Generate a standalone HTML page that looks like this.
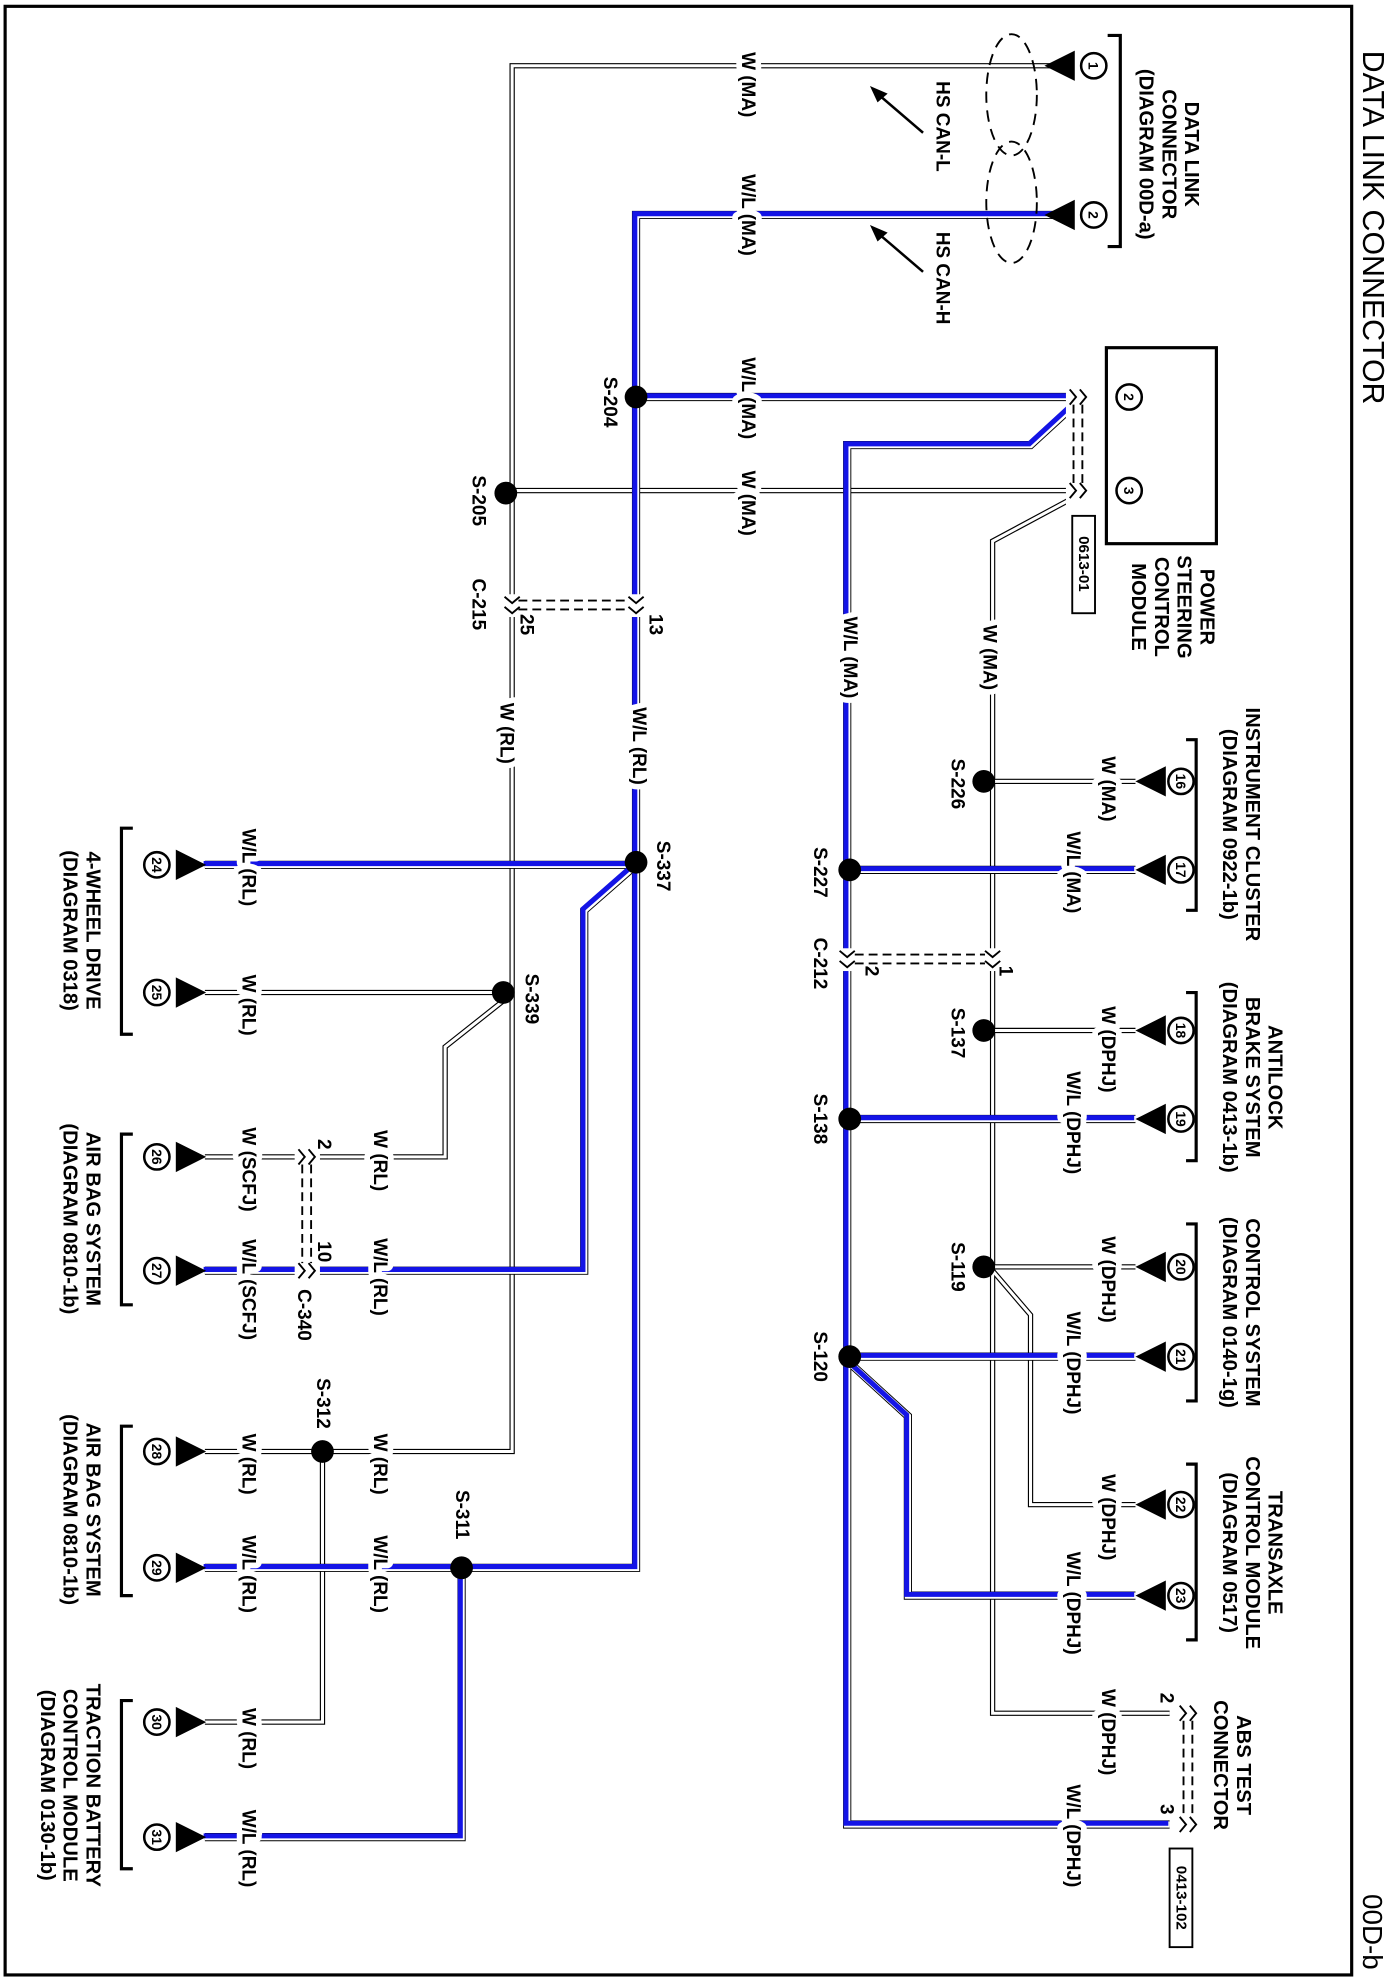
<!DOCTYPE html>
<html><head><meta charset="utf-8"><style>
html,body{margin:0;padding:0;background:#fff}
svg{display:block}
.t{font-family:"Liberation Sans Narrow","Liberation Sans",sans-serif;font-weight:bold;font-size:15px;fill:#000}
.g{font-family:"Liberation Sans Narrow","Liberation Sans",sans-serif;font-weight:bold;font-size:16px;fill:#000}
.wo{stroke:#000;stroke-width:4.2;fill:none;stroke-linejoin:miter}
.wi{stroke:#fff;stroke-width:2.4;fill:none;stroke-linejoin:miter}
.bo{stroke:#000;stroke-width:6.5;fill:none}
.bw{stroke:#fff;stroke-width:5;fill:none}
.bi{stroke:#1414e6;stroke-width:4;fill:none}
</style></head><body>
<svg width="1396" height="1980" viewBox="0 0 1104 1566" xmlns="http://www.w3.org/2000/svg">
<rect x="4" y="5" width="1065" height="1557" fill="none" stroke="#000" stroke-width="2.5"/>
<text class="g" style="font-size:24px;font-weight:normal" transform="translate(1078,40) rotate(90)">DATA LINK CONNECTOR</text>
<text class="g" style="font-size:22px;font-weight:normal" transform="translate(1078,1498) rotate(90)">00D-b</text>

<!-- white wires -->
<g class="wo">
<path d="M840,52 H405 V1148 H162"/>
<path d="M405,388 H852"/>
<path d="M405,785 H162"/>
<path d="M400,790 L352,828 V915 H162"/>
<path d="M255,1148 V1362 H162"/>
<path d="M852,392 L785,428 V1355 H925"/>
<path d="M785,618 H898"/>
<path d="M785,815 H898"/>
<path d="M785,1002 H898"/>
<path d="M785,1005 L815,1040 V1190 H898"/>
</g>
<g class="wi">
<path d="M840,52 H405 V1148 H162"/>
<path d="M405,388 H852"/>
<path d="M405,785 H162"/>
<path d="M400,790 L352,828 V915 H162"/>
<path d="M255,1148 V1362 H162"/>
<path d="M852,392 L785,428 V1355 H925"/>
<path d="M785,618 H898"/>
<path d="M785,815 H898"/>
<path d="M785,1002 H898"/>
<path d="M785,1005 L815,1040 V1190 H898"/>
</g>

<!-- blue wires -->
<g class="bo">
<path d="M840,170 H503 V1240 H162"/>
<path d="M503,314 H852"/>
<path d="M503,684 H162"/>
<path d="M503,684 L462,720 V1005 H162"/>
<path d="M365,1240 V1453 H162"/>
<path d="M852,318 L815,352 H670 V1443 H925"/>
<path d="M670,688 H898"/><path d="M670,885 H898"/><path d="M670,1073 H898"/>
<path d="M672,1078 L718,1120 V1262 H898"/>
</g>
<g class="bw">
<path d="M840,170 H503 V1240 H162"/>
<path d="M503,314 H852"/>
<path d="M503,684 H162"/>
<path d="M503,684 L462,720 V1005 H162"/>
<path d="M365,1240 V1453 H162"/>
<path d="M852,318 L815,352 H670 V1443 H925"/>
<path d="M670,688 H898"/><path d="M670,885 H898"/><path d="M670,1073 H898"/>
<path d="M672,1078 L718,1120 V1262 H898"/>
</g>
<g class="bi" transform="translate(-1,-1)">
<path d="M840,170 H503 V1240 H162"/>
<path d="M503,314 H852"/>
<path d="M503,684 H162"/>
<path d="M503,684 L462,720 V1005 H162"/>
<path d="M365,1240 V1453 H162"/>
<path d="M852,318 L815,352 H670 V1443 H925"/>
<path d="M670,688 H898"/><path d="M670,885 H898"/><path d="M670,1073 H898"/>
<path d="M672,1078 L718,1120 V1262 H898"/>
</g>

<!-- connector breaks -->
<g stroke="#000" stroke-width="1.5" fill="none">
<rect x="395" y="470" width="118" height="18" fill="#fff" stroke="none"/>
<rect x="660" y="750" width="135" height="18" fill="#fff" stroke="none"/>
<rect x="233" y="905" width="20" height="110" fill="#fff" stroke="none"/>
<rect x="843" y="304" width="20" height="96" fill="#fff" stroke="none"/>
<rect x="930" y="1345" width="20" height="108" fill="#fff" stroke="none"/>
<path d="M399,472 l6,5 l6,-5 M399,480 l6,5 l6,-5 M497,472 l6,5 l6,-5 M497,480 l6,5 l6,-5"/>
<path d="M410,475 H497 M410,482 H497" stroke-dasharray="7,4"/>
<path d="M664,752 l6,5 l6,-5 M664,760 l6,5 l6,-5 M779,752 l6,5 l6,-5 M779,760 l6,5 l6,-5"/>
<path d="M676,755 H779 M676,762 H779" stroke-dasharray="7,4"/>
<path d="M236,909 l5,6 l-5,6 M244,909 l5,6 l-5,6 M236,999 l5,6 l-5,6 M244,999 l5,6 l-5,6"/>
<path d="M239,921 V999 M246,921 V999" stroke-dasharray="7,4"/>
<path d="M846,308 l5,6 l-5,6 M854,308 l5,6 l-5,6 M846,382 l5,6 l-5,6 M854,382 l5,6 l-5,6"/>
<path d="M849,320 V382 M856,320 V382" stroke-dasharray="7,4"/>
<path d="M933,1349 l5,6 l-5,6 M941,1349 l5,6 l-5,6 M933,1437 l5,6 l-5,6 M941,1437 l5,6 l-5,6"/>
<path d="M936,1361 V1437 M943,1361 V1437" stroke-dasharray="7,4"/>
</g>

<!-- splices -->
<g fill="#000">
<circle cx="503" cy="314" r="9"/><circle cx="400" cy="390" r="9"/><circle cx="503" cy="682" r="9"/>
<circle cx="398" cy="785" r="9"/><circle cx="255" cy="1148" r="9"/><circle cx="365" cy="1240" r="9"/>
<circle cx="778" cy="618" r="9"/><circle cx="672" cy="688" r="9"/><circle cx="778" cy="815" r="9"/>
<circle cx="672" cy="885" r="9"/><circle cx="778" cy="1002" r="9"/><circle cx="672" cy="1073" r="9"/>
</g>

<!-- wire labels (with white halo to cut wires) -->
<g class="t" text-anchor="middle" dominant-baseline="central" paint-order="stroke" stroke="#fff" stroke-width="9" stroke-linejoin="round">
<text transform="translate(591,67) rotate(90)">W (MA)</text>
<text transform="translate(591,170) rotate(90)">W/L (MA)</text>
<text transform="translate(591,315) rotate(90)">W/L (MA)</text>
<text transform="translate(591,398) rotate(90)">W (MA)</text>
<text transform="translate(400,580) rotate(90)">W (RL)</text>
<text transform="translate(505,590) rotate(90)">W/L (RL)</text>
<text transform="translate(782,520) rotate(90)">W (MA)</text>
<text transform="translate(672,520) rotate(90)">W/L (MA)</text>
<text transform="translate(876,624) rotate(90)">W (MA)</text>
<text transform="translate(848,690) rotate(90)">W/L (MA)</text>
<text transform="translate(876,830) rotate(90)">W (DPHJ)</text>
<text transform="translate(848,888) rotate(90)">W/L (DPHJ)</text>
<text transform="translate(876,1012) rotate(90)">W (DPHJ)</text>
<text transform="translate(848,1078) rotate(90)">W/L (DPHJ)</text>
<text transform="translate(876,1200) rotate(90)">W (DPHJ)</text>
<text transform="translate(848,1268) rotate(90)">W/L (DPHJ)</text>
<text transform="translate(876,1370) rotate(90)">W (DPHJ)</text>
<text transform="translate(848,1452) rotate(90)">W/L (DPHJ)</text>
<text transform="translate(196,686) rotate(90)">W/L (RL)</text>
<text transform="translate(196,795) rotate(90)">W (RL)</text>
<text transform="translate(196,925) rotate(90)">W (SCFJ)</text>
<text transform="translate(196,1020) rotate(90)">W/L (SCFJ)</text>
<text transform="translate(300,918) rotate(90)">W (RL)</text>
<text transform="translate(300,1010) rotate(90)">W/L (RL)</text>
<text transform="translate(196,1158) rotate(90)">W (RL)</text>
<text transform="translate(196,1245) rotate(90)">W/L (RL)</text>
<text transform="translate(300,1158) rotate(90)">W (RL)</text>
<text transform="translate(300,1245) rotate(90)">W/L (RL)</text>
<text transform="translate(196,1375) rotate(90)">W (RL)</text>
<text transform="translate(196,1462) rotate(90)">W/L (RL)</text>
</g>

<!-- pins -->
<g fill="#000">
<polygon points="826,52 850,40 850,64"/><polygon points="826,170 850,158 850,182"/>
<polygon points="898,618 922,606 922,630"/><polygon points="898,688 922,676 922,700"/>
<polygon points="898,815 922,803 922,827"/><polygon points="898,885 922,873 922,897"/>
<polygon points="898,1002 922,990 922,1014"/><polygon points="898,1073 922,1061 922,1085"/>
<polygon points="898,1190 922,1178 922,1202"/><polygon points="898,1262 922,1250 922,1274"/>
<polygon points="163,684 139,672 139,696"/><polygon points="163,785 139,773 139,797"/>
<polygon points="163,915 139,903 139,927"/><polygon points="163,1005 139,993 139,1017"/>
<polygon points="163,1148 139,1136 139,1160"/><polygon points="163,1240 139,1228 139,1252"/>
<polygon points="163,1362 139,1350 139,1374"/><polygon points="163,1453 139,1441 139,1465"/>
</g>
<g fill="#fff" stroke="#000" stroke-width="2">
<circle cx="865" cy="52" r="10"/><circle cx="865" cy="170" r="10"/>
<circle cx="893" cy="314" r="10"/><circle cx="893" cy="388" r="10"/>
<circle cx="934" cy="618" r="10"/><circle cx="934" cy="688" r="10"/><circle cx="934" cy="815" r="10"/><circle cx="934" cy="885" r="10"/>
<circle cx="934" cy="1002" r="10"/><circle cx="934" cy="1073" r="10"/><circle cx="934" cy="1190" r="10"/><circle cx="934" cy="1262" r="10"/>
<circle cx="124" cy="684" r="10"/><circle cx="124" cy="785" r="10"/><circle cx="124" cy="915" r="10"/><circle cx="124" cy="1005" r="10"/>
<circle cx="124" cy="1148" r="10"/><circle cx="124" cy="1240" r="10"/><circle cx="124" cy="1362" r="10"/><circle cx="124" cy="1453" r="10"/>
</g>
<g class="t" style="font-size:11px" text-anchor="middle" dominant-baseline="central">
<text transform="translate(865,52) rotate(90)">1</text><text transform="translate(865,170) rotate(90)">2</text>
<text transform="translate(893,314) rotate(90)">2</text><text transform="translate(893,388) rotate(90)">3</text>
<text transform="translate(934,618) rotate(90)">16</text><text transform="translate(934,688) rotate(90)">17</text>
<text transform="translate(934,815) rotate(90)">18</text><text transform="translate(934,885) rotate(90)">19</text>
<text transform="translate(934,1002) rotate(90)">20</text><text transform="translate(934,1073) rotate(90)">21</text>
<text transform="translate(934,1190) rotate(90)">22</text><text transform="translate(934,1262) rotate(90)">23</text>
<text transform="translate(124,684) rotate(90)">24</text><text transform="translate(124,785) rotate(90)">25</text>
<text transform="translate(124,915) rotate(90)">26</text><text transform="translate(124,1005) rotate(90)">27</text>
<text transform="translate(124,1148) rotate(90)">28</text><text transform="translate(124,1240) rotate(90)">29</text>
<text transform="translate(124,1362) rotate(90)">30</text><text transform="translate(124,1453) rotate(90)">31</text>
</g>

<!-- brackets -->
<g stroke="#000" stroke-width="2.5" fill="none">
<path d="M876,28 H886 V195 H876"/>
<path d="M938,585 H946 V720 H938"/><path d="M938,785 H946 V918 H938"/>
<path d="M938,968 H946 V1108 H938"/><path d="M938,1158 H946 V1297 H938"/>
<path d="M105,655 H96 V818 H105"/><path d="M105,897 H96 V1032 H105"/>
<path d="M105,1128 H96 V1262 H105"/><path d="M105,1345 H96 V1478 H105"/>
</g>
<rect x="875" y="275" width="87" height="155" fill="none" stroke="#000" stroke-width="2.5"/>
<rect x="848" y="408" width="18" height="77" fill="#fff" stroke="#000" stroke-width="1.5"/>
<rect x="925" y="1462" width="18" height="78" fill="#fff" stroke="#000" stroke-width="1.5"/>

<!-- ellipses and arrows -->
<g stroke="#000" stroke-width="1.5" fill="none" stroke-dasharray="9,6">
<ellipse cx="800" cy="75" rx="20" ry="48"/><ellipse cx="800" cy="160" rx="20" ry="48"/>
</g>
<g stroke="#000" stroke-width="2">
<line x1="730" y1="105" x2="695" y2="75"/><line x1="730" y1="215" x2="695" y2="185"/>
</g>
<polygon points="688,68 702,74 694,81" fill="#000"/>
<polygon points="688,178 702,184 694,191" fill="#000"/>

<g class="t" text-anchor="middle" dominant-baseline="central">
<text transform="translate(745,100) rotate(90)">HS CAN-L</text>
<text transform="translate(745,220) rotate(90)">HS CAN-H</text>
<text transform="translate(482,318) rotate(90)">S-204</text>
<text transform="translate(378,396) rotate(90)">S-205</text>
<text transform="translate(378,478) rotate(90)">C-215</text>
<text transform="translate(416,494) rotate(90)">25</text>
<text transform="translate(518,494) rotate(90)">13</text>
<text transform="translate(524,685) rotate(90)">S-337</text>
<text transform="translate(757,620) rotate(90)">S-226</text>
<text transform="translate(648,690) rotate(90)">S-227</text>
<text transform="translate(648,762) rotate(90)">C-212</text>
<text transform="translate(689,768) rotate(90)">2</text>
<text transform="translate(795,768) rotate(90)">1</text>
<text transform="translate(757,817) rotate(90)">S-137</text>
<text transform="translate(648,885) rotate(90)">S-138</text>
<text transform="translate(757,1002) rotate(90)">S-119</text>
<text transform="translate(648,1073) rotate(90)">S-120</text>
<text transform="translate(420,790) rotate(90)">S-339</text>
<text transform="translate(256,905) rotate(90)">2</text>
<text transform="translate(256,990) rotate(90)">10</text>
<text transform="translate(240,1040) rotate(90)">C-340</text>
<text transform="translate(255,1110) rotate(90)">S-312</text>
<text transform="translate(365,1198) rotate(90)">S-311</text>
<text transform="translate(922,1343) rotate(90)">2</text>
<text transform="translate(922,1431) rotate(90)">3</text>
<text transform="translate(857,446) rotate(90)" style="font-size:12px">0613-01</text>
<text transform="translate(934,1501) rotate(90)" style="font-size:12px">0413-102</text>
</g>

<!-- component names -->
<g class="g" text-anchor="middle" dominant-baseline="central">
<text transform="translate(942,122) rotate(90)">DATA LINK</text>
<text transform="translate(924,122) rotate(90)">CONNECTOR</text>
<text transform="translate(906,122) rotate(90)">(DIAGRAM 00D-a)</text>
<text transform="translate(954,480) rotate(90)">POWER</text>
<text transform="translate(936,480) rotate(90)">STEERING</text>
<text transform="translate(918,480) rotate(90)">CONTROL</text>
<text transform="translate(900,480) rotate(90)">MODULE</text>
<text transform="translate(990,652) rotate(90)">INSTRUMENT CLUSTER</text>
<text transform="translate(972,652) rotate(90)">(DIAGRAM 0922-1b)</text>
<text transform="translate(1008,852) rotate(90)">ANTILOCK</text>
<text transform="translate(990,852) rotate(90)">BRAKE SYSTEM</text>
<text transform="translate(972,852) rotate(90)">(DIAGRAM 0413-1b)</text>
<text transform="translate(990,1038) rotate(90)">CONTROL SYSTEM</text>
<text transform="translate(972,1038) rotate(90)">(DIAGRAM 0140-1g)</text>
<text transform="translate(1008,1228) rotate(90)">TRANSAXLE</text>
<text transform="translate(990,1228) rotate(90)">CONTROL MODULE</text>
<text transform="translate(972,1228) rotate(90)">(DIAGRAM 0517)</text>
<text transform="translate(983,1396) rotate(90)">ABS TEST</text>
<text transform="translate(965,1396) rotate(90)">CONNECTOR</text>
<text transform="translate(73,736) rotate(90)">4-WHEEL DRIVE</text>
<text transform="translate(55,736) rotate(90)">(DIAGRAM 0318)</text>
<text transform="translate(73,964) rotate(90)">AIR BAG SYSTEM</text>
<text transform="translate(55,964) rotate(90)">(DIAGRAM 0810-1b)</text>
<text transform="translate(73,1194) rotate(90)">AIR BAG SYSTEM</text>
<text transform="translate(55,1194) rotate(90)">(DIAGRAM 0810-1b)</text>
<text transform="translate(73,1412) rotate(90)">TRACTION BATTERY</text>
<text transform="translate(55,1412) rotate(90)">CONTROL MODULE</text>
<text transform="translate(37,1412) rotate(90)">(DIAGRAM 0130-1b)</text>
</g>
</svg>
</body></html>
